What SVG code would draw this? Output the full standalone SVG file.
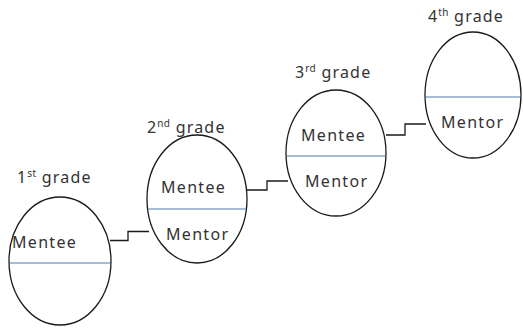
<svg xmlns="http://www.w3.org/2000/svg" width="523" height="328" viewBox="0 0 523 328">
<style>
.oval{fill:#fff;stroke:#1a1a1a;stroke-width:1.3}
.div{stroke:#8aa6c8;stroke-width:1.3}
.t{font-family:"Noto Sans","Open Sans",sans-serif;font-size:16px;fill:#333;letter-spacing:1.3px}
.g{font-family:"Noto Sans","Open Sans",sans-serif;font-size:16px;fill:#333;letter-spacing:1.2px}
.sup{font-size:10px;letter-spacing:0.3px}
.conn{fill:none;stroke:#1a1a1a;stroke-width:1.3}
</style>
<rect width="523" height="328" fill="#fff"/>
<g id="connectors">
<polyline class="conn" points="110,240.5 128,240.5 128,231.5 149,231.5"/>
<polyline class="conn" points="247,190 267,190 267,181 288,181"/>
<polyline class="conn" points="386,135 405,135 405,124 426,124"/>
</g>
<g id="grade1">
<ellipse class="oval" cx="60" cy="261" rx="51" ry="64"/>
<line class="div" x1="10" y1="263" x2="110" y2="263"/>
<text class="t" x="12" y="248">Mentee</text>
<text class="g" x="17" y="183">1<tspan class="sup" dy="-6">st</tspan><tspan dy="6"> grade</tspan></text>
</g>
<g id="grade2">
<ellipse class="oval" cx="197" cy="199" rx="50" ry="64"/>
<line class="div" x1="148" y1="209" x2="246" y2="209"/>
<text class="t" x="161" y="193">Mentee</text>
<text class="t" x="166" y="240">Mentor</text>
<text class="g" x="147" y="133">2<tspan class="sup" dy="-6">nd</tspan><tspan dy="6"> grade</tspan></text>
</g>
<g id="grade3">
<ellipse class="oval" cx="336" cy="153" rx="50" ry="63"/>
<line class="div" x1="287" y1="156" x2="385" y2="156"/>
<text class="t" x="301" y="141">Mentee</text>
<text class="t" x="305" y="187">Mentor</text>
<text class="g" x="295" y="78">3<tspan class="sup" dy="-6">rd</tspan><tspan dy="6"> grade</tspan></text>
</g>
<g id="grade4">
<ellipse class="oval" cx="473" cy="95" rx="48" ry="63"/>
<line class="div" x1="426" y1="97" x2="520" y2="97"/>
<text class="t" x="441" y="128">Mentor</text>
<text class="g" x="428" y="22">4<tspan class="sup" dy="-6">th</tspan><tspan dy="6"> grade</tspan></text>
</g>
</svg>
